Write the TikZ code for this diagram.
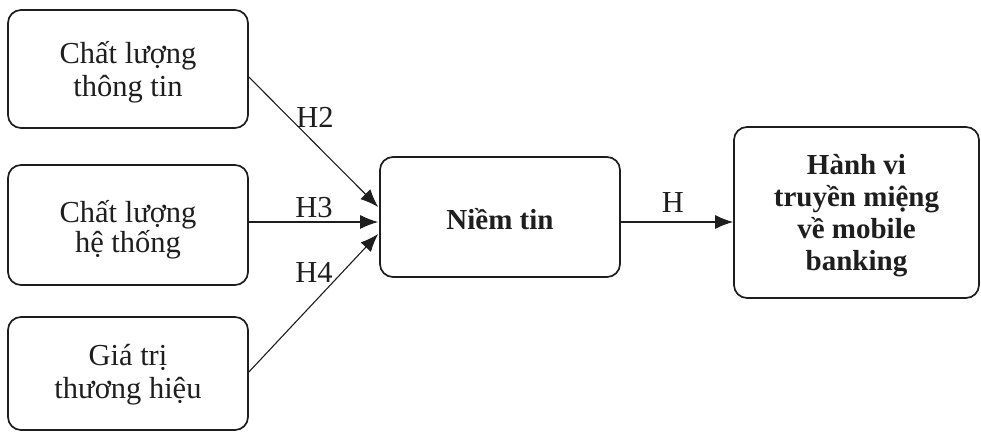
\documentclass[tikz,border=0pt]{standalone}
\usepackage{fontspec}
\setmainfont{Liberation Serif}
\usetikzlibrary{arrows.meta,calc}
\definecolor{ink}{HTML}{1E1E1E}
\begin{document}
\begin{tikzpicture}[x=1pt,y=-1pt,
  box/.style={draw=ink, line width=1.7pt, rounded corners=13pt,
    minimum width=240pt, inner sep=0pt},
  txt/.style={align=center, text=ink, inner sep=0pt,
    font=\fontsize{30.5}{33}\selectfont},
  btxt/.style={txt, font=\fontsize{29}{32}\selectfont\bfseries},
  arr/.style={draw=ink, line width=1.1pt, -{Latex[length=18pt,width=14pt]}},
  lbl/.style={text=ink, inner sep=0pt, font=\fontsize{30.5}{34}\selectfont}]
\fill[white] (0,0) rectangle (981,435);
\useasboundingbox (0,0) rectangle (981,435);

% source constructs
\node[box, minimum height=118pt,
  label={[txt, yshift=-3pt]center:{Chất lượng\\thông tin}}] (q1) at (128,69) {};
\node[box, minimum height=120pt,
  label={[txt, yshift=-5pt, font=\fontsize{30.5}{30}\selectfont]center:{Chất lượng\\hệ thống}}] (q2) at (128,225) {};
\node[box, minimum height=113pt,
  label={[txt, yshift=-1pt]center:{Giá trị\\thương hiệu}}] (q3) at (128,373.5) {};

% mediator and outcome
\node[box, minimum height=120pt,
  label={[btxt, yshift=-2pt]center:Niềm tin}] (nt) at (500,217) {};
\node[box, minimum width=245pt, minimum height=171pt,
  label={[btxt, yshift=-3pt]center:{Hành vi\\truyền miệng\\về mobile\\banking}}] (hv) at (856.5,212.5) {};

% hypothesised paths
\draw[arr] ($(q1.east)+(0,8)$) -- ($(nt.west)+(-1,-10)$);
\draw[arr] ($(q2.east)+(0,-3)$) -- ($(nt.west)+(-1,5)$);
\draw[arr] ($(q3.east)+(0,-1.5)$) -- ($(nt.west)+(-1,17)$);
\draw[arr] ($(nt.east)+(0,5)$) -- ($(hv.west)+(0,9.5)$);

\node[lbl] (h2) at (315,117) {H2};
\node[lbl] (h3) at (314,208) {H3};
\node[lbl] (h4) at (314,272) {H4};
\node[lbl] (h) at (673,203) {H};
\end{tikzpicture}
\end{document}
